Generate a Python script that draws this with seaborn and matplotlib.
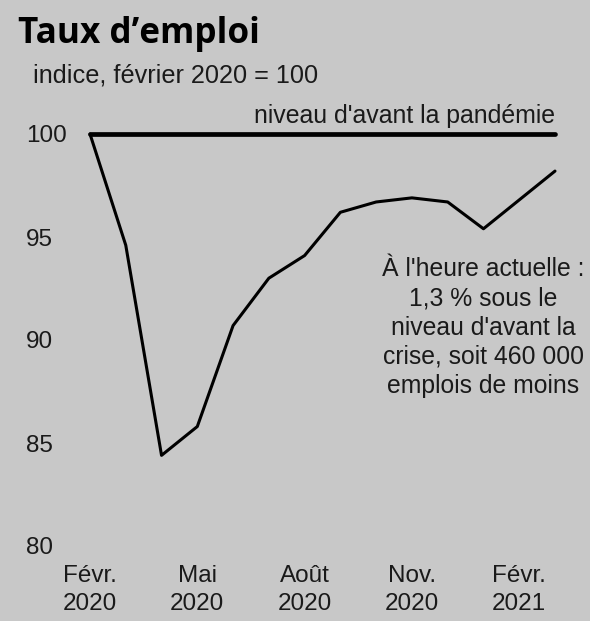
import pandas as pd
import matplotlib.pyplot as plt
import seaborn as sns

# Employment index, Feb 2020 = 100 (monthly, Feb 2020 .. Mar 2021)
months = ['2020-02', '2020-03', '2020-04', '2020-05', '2020-06', '2020-07', '2020-08',
          '2020-09', '2020-10', '2020-11', '2020-12', '2021-01', '2021-02', '2021-03']
index_values = [100.0, 94.6, 84.4, 85.8, 90.7, 93.0, 94.1,
                96.2, 96.7, 96.9, 96.7, 95.4, 96.8, 98.2]
pre_pandemic = [100.0] * len(months)

tick_pos = [0, 3, 6, 9, 12]
tick_labels = ['Févr.\n2020', 'Mai\n2020', 'Août\n2020', 'Nov.\n2020', 'Févr.\n2021']
y_ticks = [80, 85, 90, 95, 100]

bg = '#c8c8c8'
ink = '#1a1a1a'
fs = 17.5

sns.set_style('white', {'axes.facecolor': bg, 'figure.facecolor': bg})
plt.rcParams['font.family'] = ['Liberation Sans', 'DejaVu Sans']

df = pd.DataFrame({'t': range(len(months)), 'emploi': index_values, 'ref': pre_pandemic})

fig = plt.figure(figsize=(5.9, 6.21), dpi=100)
ax = fig.add_axes([90 / 590, 1 - 546 / 621, 465 / 590, 412 / 621])

sns.lineplot(data=df, x='t', y='ref', color='black', linewidth=3.4, ax=ax, clip_on=False)
sns.lineplot(data=df, x='t', y='emploi', color='black', linewidth=2.2, ax=ax, clip_on=False)

ax.set_xlim(0, len(months) - 1)
ax.set_ylim(80, 100)
ax.set_xticks(tick_pos)
ax.set_xticklabels(tick_labels, fontsize=fs, color=ink, linespacing=1.35)
ax.set_yticks(y_ticks)
ax.set_yticklabels([str(v) for v in y_ticks], fontsize=fs, color=ink)
for lab in ax.get_yticklabels():
    lab.set_horizontalalignment('left')
ax.tick_params(axis='y', length=0, pad=46)
ax.tick_params(axis='x', length=0, pad=14)
ax.set_xlabel('')
ax.set_ylabel('')
sns.despine(ax=ax, left=True, bottom=True)

ax.text(len(months) - 1, 100.3, "niveau d'avant la pandémie", ha='right', va='bottom',
        fontsize=17.9, color=ink)
ax.text(11.0, 90.6, "À l'heure actuelle :\n1,3 % sous le\nniveau d'avant la\ncrise, soit 460 000\nemplois de moins",
        ha='center', va='center', fontsize=17.8, color=ink, linespacing=1.28)

fig.text(18 / 590, 1 - 34 / 621, "Taux d’emploi", fontsize=25.3, fontweight='bold',
         family=['Open Sans', 'DejaVu Sans'], color='black', va='center', ha='left')
fig.text(33 / 590, 1 - 75 / 621, "indice, février 2020 = 100", fontsize=18.2, color=ink,
         va='center', ha='left')

fig.savefig('out.png', dpi=100, facecolor=bg)
